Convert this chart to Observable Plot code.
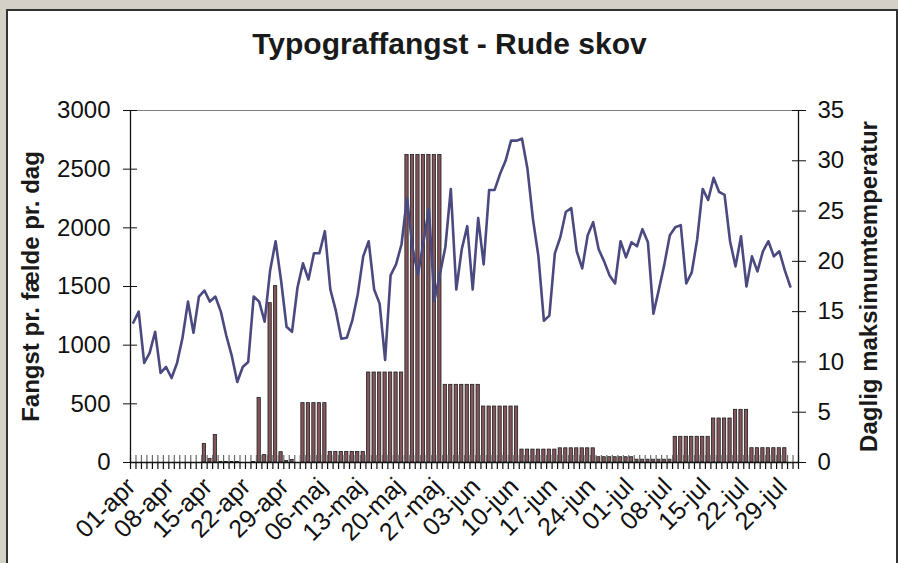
<!DOCTYPE html>
<html>
<head>
<meta charset="utf-8">
<script src="https://cdn.jsdelivr.net/npm/d3@7"></script>
<script src="https://cdn.jsdelivr.net/npm/@observablehq/plot@0.6"></script>
<style>
  body { margin: 0; background: #d4d0c8; }
  #wrap { position: relative; width: 898px; height: 563px; overflow: hidden; background: #d4d0c8; }
  #frame { position: absolute; left: 6px; top: 9px; width: 888px; height: 600px; background: #fff; border: 2px solid #333; }
  #chart { position: absolute; left: 0; top: 0; }
</style>
</head>
<body>
<div id="wrap"><div id="frame"></div><div id="chart"></div></div>
<script>
const chartTitle = "Typograffangst - Rude skov";
const leftTitle = "Fangst pr. fælde pr. dag";
const rightTitle = "Daglig maksimumtemperatur";

// one label every 7 days, starting 01-apr
const tickLabels = ["01-apr","08-apr","15-apr","22-apr","29-apr","06-maj","13-maj","20-maj","27-maj",
  "03-jun","10-jun","17-jun","24-jun","01-jul","08-jul","15-jul","22-jul","29-jul"];

// daily catch per trap, 01-apr .. 31-jul (122 days)
const catchPerDay = [
  0,0,0,0,0,0,0,0,0,0,0,0,0,          // 01-13 apr
  157,30,235,4,4,4,4,0,0,4,           // 14-23 apr
  549,63,1358,1503,88,12,22,0,        // 24 apr - 01 maj
  506,506,506,506,506,                // 02-06 maj
  90,90,90,90,90,90,90,               // 07-13 maj
  767,767,767,767,767,767,767,        // 14-20 maj
  2621,2621,2621,2621,2621,2621,2621, // 21-27 maj
  662,662,662,662,662,662,662,        // 28 maj - 03 jun
  477,477,477,477,477,477,477,        // 04-10 jun
  110,110,110,110,110,110,110,        // 11-17 jun
  121,121,121,121,121,121,121,        // 18-24 jun
  45,45,45,45,45,45,45,               // 25 jun - 01 jul
  24,24,24,24,24,24,24,               // 02-08 jul
  219,219,219,219,219,219,219,        // 09-15 jul
  375,375,375,375,                    // 16-19 jul
  449,449,449,                        // 20-22 jul
  122,122,122,122,122,122,122,        // 23-29 jul
  0,0                                 // 30-31 jul
];

// daily maximum temperature (°C)
const maxTemp = [
  13.9,15.0,9.9,10.9,13.0,8.9,9.5,8.4,9.9,12.4,
  16.0,12.9,16.5,17.1,16.0,16.5,15.0,12.6,10.6,8.0,
  9.5,10.0,16.5,16.0,14.0,19.1,22.0,18.1,13.5,13.0,
  17.4,19.8,18.2,20.8,20.8,23.0,17.2,15.1,12.3,12.4,
  14.1,16.7,20.5,22.0,17.2,15.8,10.2,18.6,19.7,21.7,
  26.3,21.4,18.7,21.9,25.2,16.1,18.7,21.4,27.2,17.2,
  21.2,23.5,17.2,24.3,19.7,27.1,27.1,28.7,30.0,32.0,
  32.0,32.2,29.2,24.2,20.5,14.1,14.6,20.8,22.4,24.9,
  25.3,21.0,19.3,22.6,23.9,21.2,20.0,18.6,17.8,22.0,
  20.4,21.9,21.5,23.2,21.9,14.8,17.2,19.7,22.6,23.4,
  23.6,17.8,18.9,22.2,27.2,26.1,28.3,26.9,26.6,22.0,
  19.5,22.5,17.5,20.5,19.0,21.0,22.0,20.5,21.0,19.1,
  17.5,null
];

const leftTicks = [0,500,1000,1500,2000,2500,3000];
const rightTicks = [0,5,10,15,20,25,30,35];
const leftMax = 3000, rightMax = 35;
const k = leftMax / rightMax;

const nDays = catchPerDay.length;
const days = catchPerDay.map((c, i) => ({i, c, t: maxTemp[i]}));
const dayEdges = d3.range(0, nDays + 1);
const labelPos = tickLabels.map((_, j) => j * 7 + 0.5);

const font = "'Liberation Sans', Arial, Helvetica, sans-serif";

const chart = Plot.plot({
  width: 898,
  height: 563,
  marginLeft: 130,
  marginRight: 100,
  marginTop: 110,
  marginBottom: 101,
  style: {background: "transparent", fontFamily: font, fontSize: "24px", color: "#111"},
  x: {domain: [0, nDays]},
  y: {domain: [0, leftMax]},
  marks: [
    Plot.ruleY([leftMax], {stroke: "#808080", strokeWidth: 1}),
    Plot.rectY(days, {x1: d => d.i + 0.2, x2: d => d.i + 0.8, y: "c",
      fill: "#84565c", stroke: "#1e1e1e", strokeWidth: 0.8}),
    // x ticks between categories (cross)
    Plot.axisX(dayEdges, {anchor: "bottom", tickSize: 7, tickFormat: () => "", stroke: "#111", strokeWidth: 1.2, label: null}),
    Plot.axisX(dayEdges, {anchor: "bottom", tickSize: 7, dy: -7, tickFormat: () => "", stroke: "#6a6a6a", strokeWidth: 1.2, label: null}),
    // x labels
    Plot.axisX(labelPos, {anchor: "bottom", tickSize: 0, tickPadding: 15, tickRotate: -45, dy: 5, dx: -2,
      tickFormat: d => tickLabels[Math.round((d - 0.5) / 7)], fontSize: 25, label: null}),
    Plot.line(days.filter(d => d.t != null), {x: d => d.i + 0.5, y: d => d.t * k,
      stroke: "#4a4a80", strokeWidth: 2.6}),
    // axes lines
    Plot.ruleY([0], {stroke: "#111", strokeWidth: 1.3}),
    Plot.ruleX([0], {stroke: "#111", strokeWidth: 1.3}),
    Plot.ruleX([nDays], {stroke: "#111", strokeWidth: 1.3}),
    // left axis
    Plot.axisY(leftTicks, {anchor: "left", tickSize: 7, tickPadding: 13, fontSize: 24,
      tickFormat: d => String(d), label: null, stroke: "#111"}),
    Plot.axisY(leftTicks, {anchor: "left", tickSize: 7, dx: 7, tickFormat: () => "", label: null, stroke: "#111"}),
    // right axis (temperature)
    Plot.axisY(rightTicks.map(t => t * k), {anchor: "right", tickSize: 7, tickPadding: 12, fontSize: 24,
      tickFormat: v => String(Math.round(v / k)), label: null, stroke: "#111"}),
    Plot.axisY(rightTicks.map(t => t * k), {anchor: "right", tickSize: 7, dx: -7, tickFormat: () => "", label: null, stroke: "#111"}),
    // titles
    Plot.text([chartTitle], {frameAnchor: "top", dx: -15, dy: -57, lineAnchor: "bottom",
      fontSize: 30, fontWeight: "bold", fill: "#1a1a1a"}),
    Plot.text([leftTitle], {frameAnchor: "left", textAnchor: "middle", rotate: -90, dx: -99,
      fontSize: 24, fontWeight: "bold", fill: "#1a1a1a"}),
    Plot.text([rightTitle], {frameAnchor: "right", textAnchor: "middle", rotate: -90, dx: 71,
      fontSize: 24, fontWeight: "bold", fill: "#1a1a1a"})
  ]
});
document.getElementById("chart").appendChild(chart);
</script>
</body>
</html>
